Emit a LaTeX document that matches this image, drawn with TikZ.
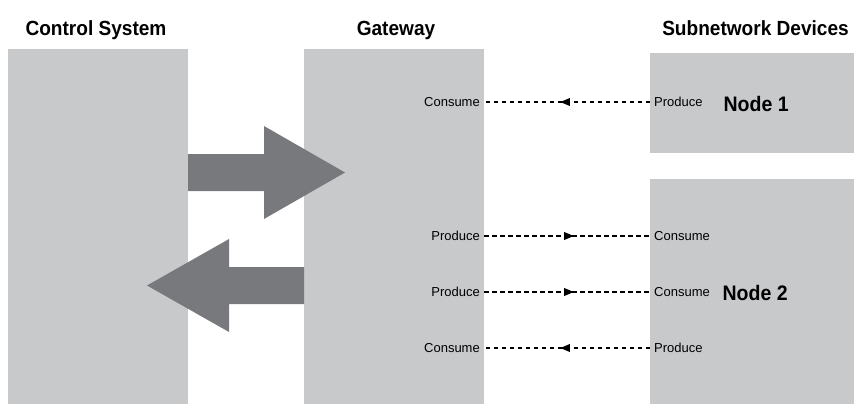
\documentclass[tikz,border=0pt]{standalone}
\usepackage{fontspec}
\setmainfont{Liberation Sans}
\newfontfamily\headfont[FakeStretch=0.93]{Liberation Sans}
\usetikzlibrary{positioning,decorations.markings,arrows}
\definecolor{panelgray}{RGB}{200,201,203}
\definecolor{arrowgray}{RGB}{120,121,125}
\tikzset{
panel/.style={fill=panelgray, draw=none, inner sep=0pt},
title/.style={font=\headfont\fontsize{20.5}{22}\bfseries, anchor=base},
nodename/.style={font=\headfont\fontsize{21}{22}\bfseries, anchor=base west},
port/.style={font=\fontsize{13}{14}\selectfont, inner sep=4pt},
bigarrow/.style={fill=arrowgray, draw=none},
flow/.style={line width=1.2pt, dash pattern=on 4.5pt off 3.5pt,
  postaction={decorate}, decoration={markings,
  mark=at position 0.54 with {\arrow[solid]{triangle 45}}}}
}

\begin{document}
\begin{tikzpicture}[x=1pt,y=-1pt]
  \useasboundingbox (0,0) rectangle (854,405);
  \node[panel, minimum width=180pt, minimum height=355pt] (ctrl) at (98,226.5) {};
  \node[panel, minimum width=180pt, minimum height=355pt] (gw) at (394,226.5) {};
  \node[panel, minimum width=204pt, minimum height=100pt] (nodeA) at (752,103) {};
  \node[panel, minimum width=204pt, minimum height=225pt] (nodeB) at (752,291.5) {};
  \node[title] (tctrl) at (96,35) {Control System};
  \node[title] (tgw) at (396,35) {Gateway};
  \node[title] (tsub) at (755.5,35) {Subnetwork Devices};
  \node[nodename] (lA) at (720,111) {Node 1};
  \node[nodename] (lB) at (719,300.5) {Node 2};
  \fill[bigarrow] (188,154) -- (264,154) -- (264,126) -- (345,172.5) -- (264,219) -- (264,191) -- (188,191) -- cycle;
  \fill[bigarrow] (304,267) -- (229,267) -- (229,239) -- (147,285.5) -- (229,332) -- (229,304) -- (304,304) -- cycle;
  \node[port, anchor=east] (gc1) at (484,102) {Consume};
  \node[port, anchor=west] (ap1) at (650,102) {Produce};
  \node[port, anchor=east] (gp1) at (484,236) {Produce};
  \node[port, anchor=west] (bc1) at (650,236) {Consume};
  \node[port, anchor=east] (gp2) at (484,292) {Produce};
  \node[port, anchor=west] (bc2) at (650,292) {Consume};
  \node[port, anchor=east] (gc2) at (484,348) {Consume};
  \node[port, anchor=west] (bp1) at (650,348) {Produce};
  \draw[flow] (ap1.west) -- (gc1.east);
  \draw[flow] (gp1.east) -- (bc1.west);
  \draw[flow] (gp2.east) -- (bc2.west);
  \draw[flow] (bp1.west) -- (gc2.east);
\end{tikzpicture}
\end{document}
